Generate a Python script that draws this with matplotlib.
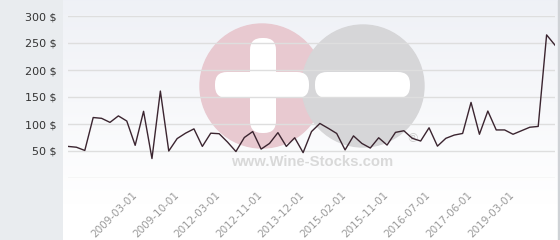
import numpy as np
import matplotlib.pyplot as plt
from matplotlib.patches import Circle, FancyBboxPatch, Rectangle

# prix moyen par date (59 points)
prices = [58.5, 57, 51, 112, 110.5, 103, 115, 105.5, 60.5, 123.5,
          36, 161, 50, 73, 83, 91, 58.5, 83, 82, 66.5,
          49, 75, 86, 53.5, 64, 84, 58.5, 74.5, 47, 86,
          101, 92, 82.5, 52, 78, 64, 55.5, 74.5, 61, 84.5,
          87.5, 73.5, 68.5, 93, 59, 73.5, 79.5, 82.5, 140, 81,
          124, 89, 89, 81, 87.5, 94, 95.5, 265, 246]
tick_idx = [8, 13, 18, 23, 28, 33, 38, 43, 48, 53]
tick_labels = ['2009-03-01', '2009-10-01', '2012-03-01', '2012-11-01', '2013-12-01',
               '2015-02-01', '2015-11-01', '2016-07-01', '2017-06-01', '2019-03-01']
y_ticks = [0, 50, 100, 150, 200, 250, 300]

fig = plt.figure(figsize=(5.6, 2.4), dpi=100)
fig.patch.set_facecolor('#e9ecef')

# fond + filigrane, en coordonnees pixels
bg = fig.add_axes([0, 0, 1, 1], zorder=0)
bg.set_xlim(0, 560)
bg.set_ylim(240, 0)
bg.axis('off')
grad = np.linspace(0, 1, 240).reshape(-1, 1)
top = np.array([0.937, 0.945, 0.965])
col = top + (1 - top) * np.clip(grad / 0.85, 0, 1)[..., None]
col = np.repeat(col, 2, axis=1)
bg.imshow(col, extent=[63, 558, 240, 0], aspect='auto', zorder=0)
bg.add_patch(Rectangle((557.5, 0), 1.2, 240, color='#cfd2d6', zorder=1))

bg.add_patch(Circle((262, 86), 62, color='#e8c9d0', zorder=2))
bg.add_patch(Circle((363, 86), 61, color='#d6d6d8', zorder=3))
bg.add_patch(FancyBboxPatch((253, 41), 20, 89, boxstyle='round,pad=3,rounding_size=12',
                            fc='white', ec='none', zorder=4))
bg.add_patch(FancyBboxPatch((218, 75), 88, 20, boxstyle='round,pad=3,rounding_size=12',
                            fc='white', ec='none', zorder=4))
bg.add_patch(FancyBboxPatch((318, 75), 89, 20, boxstyle='round,pad=3,rounding_size=12',
                            fc='white', ec='none', zorder=4))
bg.text(312, 162, 'www.Wine-Stocks.com', family='Liberation Sans', weight='bold',
        fontsize=10.7, color='#d9d9d9', ha='center', va='center', zorder=4)
bg.text(413, 139, '\u00ae', fontsize=9, color='#cfcfcf', ha='center', va='center', zorder=4)

ax = fig.add_axes([68 / 560, 62 / 240, 487 / 560, 162 / 240], zorder=2)
ax.patch.set_alpha(0)
ax.plot(range(len(prices)), prices, color='#3b2530', lw=1.0)

ax.set_xlim(0, len(prices) - 1)
ax.set_ylim(0, 300)
ax.set_yticks(y_ticks)
ax.set_yticklabels(['' if v == 0 else f'{v} $' for v in y_ticks])
ax.set_xticks(tick_idx)
ax.set_xticklabels(tick_labels, rotation=45, ha='right', rotation_mode='anchor')
ax.grid(axis='y', color='#dedede', lw=1)
ax.set_axisbelow(True)
for s in ax.spines.values():
    s.set_visible(False)
ax.tick_params(axis='y', length=0, pad=8, labelsize=8, labelcolor='#333333')
ax.tick_params(axis='x', length=0, pad=11, labelsize=7.5, labelcolor='#9a9a9a')
for lab in ax.get_xticklabels():
    lab.set_verticalalignment('center')

fig.savefig('out.png', dpi=100, facecolor=fig.get_facecolor())
